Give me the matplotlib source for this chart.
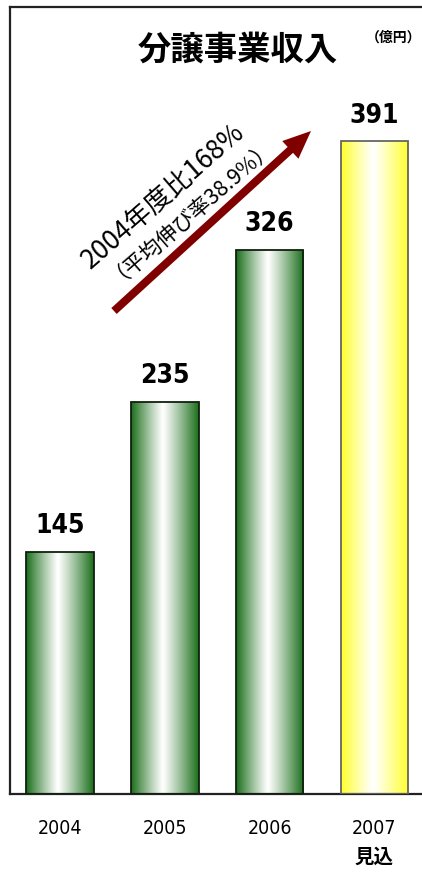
import numpy as np
import matplotlib
matplotlib.use('Agg')
import matplotlib.pyplot as plt
from matplotlib import font_manager
from matplotlib.patches import Rectangle, FancyArrow
from matplotlib.colors import to_rgb

years = ['2004', '2005', '2006', '2007']
sub_labels = ['', '', '', '見込']
values = [145, 235, 326, 391]
edge_colors = ['#1b6e1b', '#1b6e1b', '#1b6e1b', '#ffff2a']
outline_colors = ['#102010', '#102010', '#102010', '#666666']

title = '分譲事業収入'
unit = '（億円）'
growth_line1 = '2004年度比168%'
growth_line2 = '（平均伸び率38.9%）'

W, H = 422, 879
fig = plt.figure(figsize=(W / 100, H / 100), dpi=100)
fig.patch.set_facecolor('white')

# axes in pixel terms: left frame at x=10, baseline at y=795, top frame at y=8
ax = fig.add_axes([10 / W, (H - 795) / H, 1 - 10 / W, 787 / H])
px_per_x = 104.8
x0_px = 60 - 10
ax.set_xticks([])
ax.set_yticks([])
for side in ['top', 'left', 'bottom']:
    ax.spines[side].set_linewidth(1.6)
    ax.spines[side].set_color('#222222')
ax.spines['right'].set_visible(False)

cjk = ['Noto Sans CJK JP', 'DejaVu Sans']
installed = {f.name for f in font_manager.fontManager.ttflist}
narrow = [f for f in ['Liberation Sans Narrow', 'DejaVu Sans Condensed']
          if f in installed] + ['DejaVu Sans']

bar_w = 0.645
t = np.linspace(0, 1, 256)
peak = 0.47
mix = np.where(t < peak, (peak - t) / peak, (t - peak) / (1 - peak))
mix = np.clip(mix, 0, 1) ** 1.1

for i, v in enumerate(values):
    edge = np.array(to_rgb(edge_colors[i]))
    grad = (1 - mix)[:, None] * np.ones(3) + mix[:, None] * edge
    img = np.tile(grad[None, :, :], (2, 1, 1))
    left = i - bar_w / 2
    rect = Rectangle((left, 0), bar_w, v, facecolor='none',
                     edgecolor=outline_colors[i], linewidth=1.3, zorder=3)
    ax.add_patch(rect)
    im = ax.imshow(img, extent=(left, left + bar_w, 0, v), aspect='auto',
                   interpolation='bilinear', zorder=2)
    im.set_clip_path(rect)
    ax.text(i, v + 8, str(v), ha='center', va='bottom', fontsize=19,
            fontweight='bold', family=narrow, fontstretch='condensed')

ax.set_xlim(-x0_px / px_per_x, (W - 10 - x0_px) / px_per_x)
ax.set_ylim(0, 787 / 1.67)

# category labels under the axis
for i, yr in enumerate(years):
    xf = (10 + x0_px + i * px_per_x) / W
    fig.text(xf, 1 - 829 / H, yr, ha='center', va='center', fontsize=14,
             family=narrow, fontstretch='condensed')
    if sub_labels[i]:
        fig.text(xf, 1 - 857 / H, sub_labels[i], ha='center', va='center',
                 fontsize=14, fontweight='bold', family=cjk)

fig.text(238 / W, 1 - 50 / H, title, ha='center', va='center', fontsize=24,
         fontweight='bold', family=cjk)
fig.text(394 / W, 1 - 38 / H, unit, ha='center', va='center', fontsize=10,
         fontweight='bold', family=cjk)

# growth arrow
ax_fig = fig.add_axes([0, 0, 1, 1], facecolor='none')
ax_fig.set_xlim(0, W)
ax_fig.set_ylim(H, 0)
ax_fig.axis('off')
ax_fig.add_patch(FancyArrow(114, 312, 197, -180, width=8, head_width=24,
                            head_length=28, length_includes_head=True,
                            color='#800000', lw=0))
ax_fig.text(163, 196, growth_line1, rotation=41, rotation_mode='anchor',
            ha='center', va='center', fontsize=19, family=cjk)
ax_fig.text(188, 206, growth_line2, rotation=41, rotation_mode='anchor',
            ha='center', va='center', fontsize=15.5, family=cjk)

fig.savefig('out.png', dpi=100)
